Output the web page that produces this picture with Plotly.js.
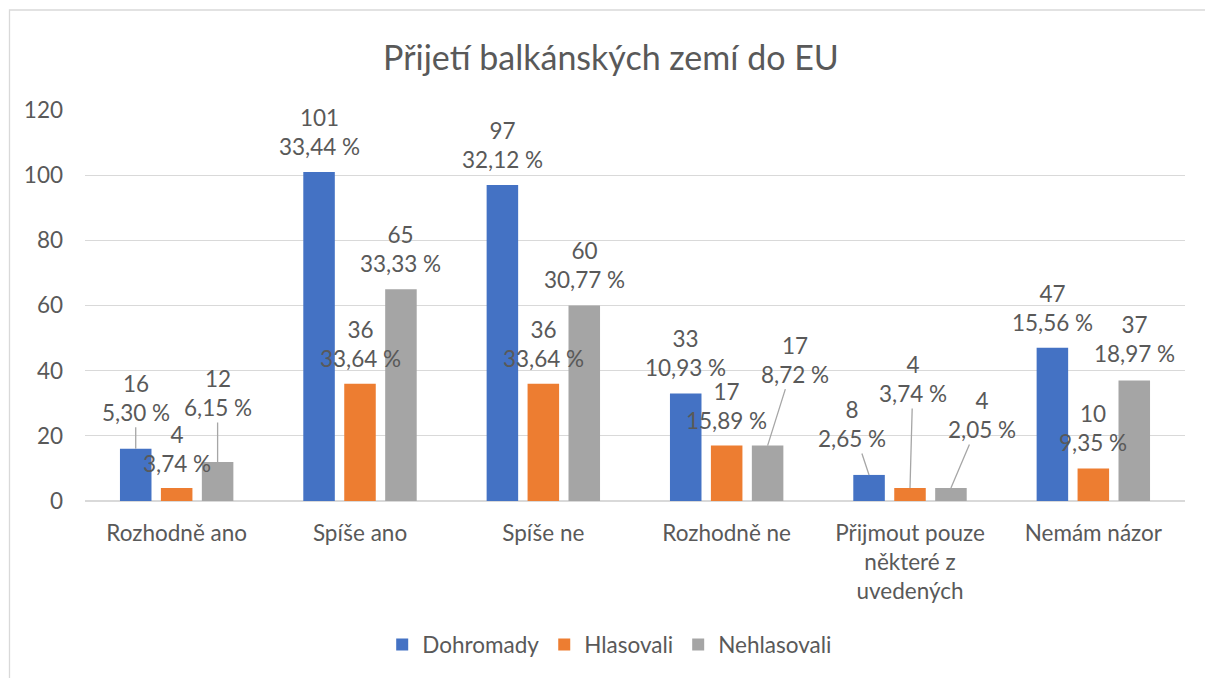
<!DOCTYPE html>
<html>
<head>
<meta charset="utf-8">
<script src="https://cdn.plot.ly/plotly-3.0.1.min.js"></script>
<style>
  html, body { margin: 0; padding: 0; background: #fff; }
  #chart { width: 1205px; height: 678px; }
</style>
</head>
<body>
<div id="chart"></div>
<script>
// ---- data ----
const categories = ['Rozhodně ano', 'Spíše ano', 'Spíše ne', 'Rozhodně ne', 'Přijmout pouze<br>některé z<br>uvedených', 'Nemám názor'];
const seriesNames = ['Dohromady', 'Hlasovali', 'Nehlasovali'];
const dohromady = [16, 101, 97, 33, 8, 47];
const dohromadyPct = [5.30, 33.44, 32.12, 10.93, 2.65, 15.56];
const hlasovali = [4, 36, 36, 17, 4, 10];
const hlasovaliPct = [3.74, 33.64, 33.64, 15.89, 3.74, 9.35];
const nehlasovali = [12, 65, 60, 17, 4, 37];
const nehlasovaliPct = [6.15, 33.33, 30.77, 8.72, 2.05, 18.97];
const yTicks = [0, 20, 40, 60, 80, 100, 120];

// ---- styles ----
const colors = ['#4472C4', '#ED7D31', '#A5A5A5'];
const textColor = '#595959';
const gridColor = '#D9D9D9';
const fontFamily = 'Lato, "Open Sans", sans-serif';
const labelSize = 22.5;
const bargap = 0.33, bargroupgap = 0.23;
const slot = (1 - bargap) / 3;
const barOffset = [-slot, 0, slot];

// label placement (pixel offsets: [text dx, text dy, leader line])
const labelPos = [
  [[0,-51,true],[0,-40,false],[0,-40,false],[0,-40,false],[-17,-51,true],[0,-40,false]],
  [[0,-39,false],[0,-40,false],[0,-40,false],[0,-40,false],[3,-109,true],[0,-40,false]],
  [[0,-69,true],[0,-40,false],[0,-41,false],[27,-86,true],[31,-73,true],[0,-41,false]]
];

const values = [dohromady, hlasovali, nehlasovali];
const pcts = [dohromadyPct, hlasovaliPct, nehlasovaliPct];
const fmtPct = p => p.toFixed(2).replace('.', ',') + ' %';

const traces = values.map((vals, s) => ({
  type: 'bar',
  name: seriesNames[s],
  x: categories,
  y: vals,
  marker: { color: colors[s] },
  hoverinfo: 'x+y+name'
}));

const annotations = [];
values.forEach((vals, s) => {
  vals.forEach((v, i) => {
    const p = labelPos[s][i];
    annotations.push({
      xref: 'x', yref: 'y',
      x: i + barOffset[s], y: v,
      ax: p[0], ay: p[1],
      text: v + '<br>' + fmtPct(pcts[s][i]),
      showarrow: true,
      arrowhead: 0,
      arrowwidth: 1.3,
      standoff: 0,
      arrowcolor: p[2] ? '#A6A6A6' : 'rgba(0,0,0,0)',
      font: { family: fontFamily, size: labelSize, color: textColor }
    });
  });
});

const layout = {
  width: 1205, height: 678,
  margin: { l: 85, r: 20, t: 110, b: 177, pad: 0 },
  paper_bgcolor: '#ffffff',
  plot_bgcolor: '#ffffff',
  font: { family: fontFamily, size: labelSize, color: textColor },
  title: {
    text: 'Přijetí balkánských zemí do EU',
    font: { family: fontFamily, size: 34, color: textColor },
    xref: 'container', x: 0.507, xanchor: 'center',
    yref: 'container', y: 1 - 58 / 678, yanchor: 'middle'
  },
  barmode: 'group',
  bargap: bargap,
  bargroupgap: bargroupgap,
  showlegend: true,
  legend: {
    orientation: 'h',
    x: 0.477, xanchor: 'center',
    y: -0.368, yanchor: 'middle',
    font: { family: fontFamily, size: labelSize, color: textColor },
    itemwidth: 30,
    traceorder: 'normal'
  },
  xaxis: {
    type: 'category',
    showgrid: false,
    showline: false,
    zeroline: false,
    ticks: '',
    tickfont: { family: fontFamily, size: labelSize, color: textColor },
    ticklabelstandoff: 16,
    fixedrange: true
  },
  yaxis: {
    range: [0, 120],
    tickvals: yTicks,
    ticktext: yTicks.map(String),
    showgrid: true,
    gridcolor: gridColor,
    gridwidth: 1.3,
    zeroline: true,
    zerolinecolor: gridColor,
    zerolinewidth: 1.3,
    showline: false,
    ticks: '',
    tickfont: { family: fontFamily, size: labelSize, color: textColor },
    ticklabelstandoff: 21,
    fixedrange: true
  },
  annotations: annotations,
  shapes: [{
    type: 'rect', xref: 'paper', yref: 'paper',
    x0: (9.5 - 85) / 1100, x1: (1215 - 85) / 1100,
    y0: (501 - 690) / 391, y1: (501 - 10) / 391,
    line: { color: gridColor, width: 1.3 },
    fillcolor: 'rgba(0,0,0,0)',
    layer: 'below'
  }]
};

Plotly.newPlot('chart', traces, layout, { displayModeBar: false, staticPlot: true });
</script>
</body>
</html>
